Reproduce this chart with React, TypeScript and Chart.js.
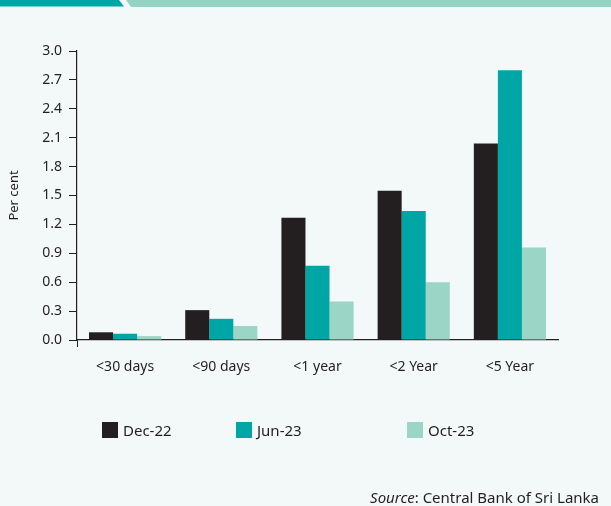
import React, { useEffect, useRef } from "react";
import { Chart, registerables } from "chart.js";

Chart.register(...registerables);

const categories = ["<30 days", "<90 days", "<1 year", "<2 Year", "<5 Year"];
const seriesNames = ["Dec-22", "Jun-23", "Oct-23"];
const dec22 = [0.08, 0.31, 1.27, 1.55, 2.04];
const jun23 = [0.065, 0.22, 0.77, 1.34, 2.8];
const oct23 = [0.04, 0.145, 0.4, 0.6, 0.96];
const yTicks = [0, 0.3, 0.6, 0.9, 1.2, 1.5, 1.8, 2.1, 2.4, 2.7, 3.0];
const colors = ["#231F20", "#00A6A5", "#9AD5C6"];
const legendX = [102, 236, 407];

const FONT = "'Noto Sans', 'DejaVu Sans', sans-serif";
const TEXT = "#231F20";

export default function App() {
  const ref = useRef<HTMLCanvasElement | null>(null);

  useEffect(() => {
    document.body.style.margin = "0";
    const canvas = ref.current;
    if (!canvas) return;
    const chart = new Chart(canvas, {
      type: "bar",
      data: {
        labels: categories,
        datasets: [dec22, jun23, oct23].map((d, i) => ({
          label: seriesNames[i],
          data: d,
          backgroundColor: colors[i],
          borderWidth: 0,
          categoryPercentage: 0.75,
          barPercentage: 1,
        })),
      },
      options: {
        animation: false,
        responsive: false,
        devicePixelRatio: 1,
        layout: { padding: { left: 0, top: 51, right: 53, bottom: 0 } },
        plugins: {
          legend: { display: false },
          tooltip: { enabled: false },
        },
        scales: {
          x: {
            grid: {
              offset: true,
              drawOnChartArea: false,
              drawTicks: true,
              tickLength: 7,
              color: (ctx: any) => (ctx.index === 0 ? TEXT : "rgba(0,0,0,0)"),
            },
            border: { display: true, color: TEXT, width: 1.2 },
            ticks: {
              color: TEXT,
              font: { family: FONT, size: 14 },
              padding: 12,
              maxRotation: 0,
            },
            afterFit: (s: any) => {
              s.height = 166;
            },
          },
          y: {
            min: 0,
            max: 3,
            afterBuildTicks: (s: any) => {
              s.ticks = yTicks.map((v) => ({ value: v }));
            },
            grid: {
              drawOnChartArea: false,
              drawTicks: true,
              tickLength: 8,
              color: TEXT,
            },
            border: { display: true, color: TEXT, width: 1.2 },
            ticks: {
              color: TEXT,
              font: { family: FONT, size: 14 },
              padding: 7,
              callback: (v: any) => Number(v).toFixed(1),
            },
            title: {
              display: true,
              text: "Per cent",
              color: TEXT,
              font: { family: FONT, size: 13 },
              padding: { top: 6, bottom: 0 },
            },
            afterFit: (s: any) => {
              s.width = 77;
            },
          },
        },
      },
    });
    return () => chart.destroy();
  }, []);

  return (
    <div
      style={{
        position: "absolute",
        left: 0,
        top: 0,
        width: 611,
        height: 506,
        background: "#F3F9F9",
        overflow: "hidden",
        fontFamily: FONT,
        color: TEXT,
      }}
    >
      <div
        style={{
          position: "absolute",
          left: 0,
          top: 0,
          width: 124,
          height: 6.5,
          background: "#00A6A6",
          clipPath: "polygon(0 0, 119px 0, 124px 100%, 0 100%)",
        }}
      />
      <div
        style={{
          position: "absolute",
          left: 126,
          top: 0,
          width: 485,
          height: 7,
          background: "#94D3C1",
          clipPath: "polygon(0 0, 100% 0, 100% 100%, 5px 100%)",
        }}
      />
      <canvas
        ref={ref}
        width={611}
        height={506}
        style={{ position: "absolute", left: 0, top: 0, width: 611, height: 506 }}
      />
      {seriesNames.map((n, i) => (
        <div key={n}>
          <div
            style={{
              position: "absolute",
              left: legendX[i],
              top: 422,
              width: 16,
              height: 16,
              background: colors[i],
            }}
          />
          <div
            style={{
              position: "absolute",
              left: legendX[i] + 21,
              top: 420,
              fontSize: 15,
              lineHeight: "20px",
              whiteSpace: "nowrap",
            }}
          >
            {n}
          </div>
        </div>
      ))}
      <div
        style={{
          position: "absolute",
          right: 12,
          top: 487,
          fontSize: 15,
          lineHeight: "20px",
          whiteSpace: "nowrap",
        }}
      >
        <i>Source</i>: Central Bank of Sri Lanka
      </div>
    </div>
  );
}
